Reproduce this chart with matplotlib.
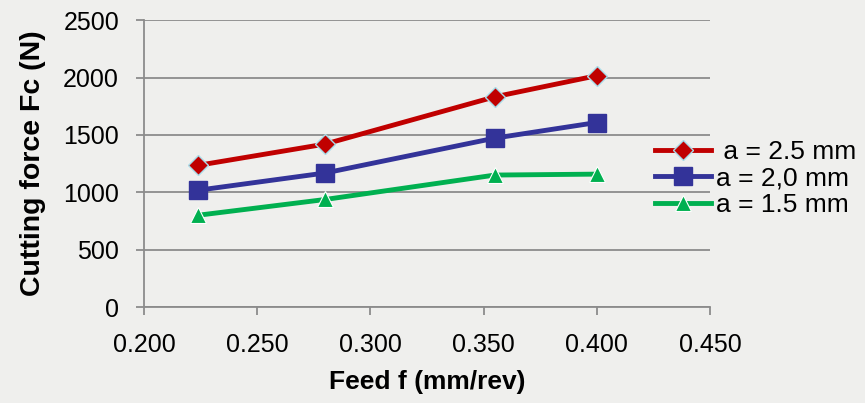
import matplotlib
matplotlib.use("Agg")
import matplotlib.pyplot as plt

plt.rcParams["font.family"] = ["Liberation Sans", "DejaVu Sans"]

feed = [0.224, 0.280, 0.355, 0.400]
fc_25 = [1235, 1420, 1832, 2016]
fc_20 = [1018, 1168, 1472, 1608]
fc_15 = [800, 937, 1150, 1158]
labels = [" a = 2.5 mm", "a = 2,0 mm", "a = 1.5 mm"]

fig = plt.figure(figsize=(8.65, 4.03), dpi=100, facecolor="#efefed")
ax = fig.add_axes([0.1665, 0.2382, 0.8208 - 0.1665, 0.950 - 0.2382])
ax.set_facecolor("none")

ax.plot(feed, fc_25, color="#c00000", linewidth=3.5, marker="D", markersize=10,
        markerfacecolor="#c00000", markeredgecolor="#a8dbe8", markeredgewidth=1,
        label=labels[0], zorder=3)
ax.plot(feed, fc_20, color="#333399", linewidth=3.5, marker="s", markersize=13,
        markerfacecolor="#333399", markeredgecolor="#333399",
        label=labels[1], zorder=3)
ax.plot(feed, fc_15, color="#00b050", linewidth=3.5, marker="^", markersize=11,
        markerfacecolor="#00b050", markeredgecolor="white", markeredgewidth=0.8,
        label=labels[2], zorder=3)

ax.set_xlim(0.2, 0.45)
ax.set_ylim(0, 2500)
ax.set_xticks([0.2, 0.25, 0.3, 0.35, 0.4, 0.45])
ax.set_xticklabels([f"{v:.3f}" for v in [0.2, 0.25, 0.3, 0.35, 0.4, 0.45]])
ax.set_yticks(range(0, 2501, 500))

ax.grid(True, axis="y", color="#8c8c8c", linewidth=1.3)
ax.set_axisbelow(True)
for s in ["top", "right"]:
    ax.spines[s].set_visible(False)
for s in ["left", "bottom"]:
    ax.spines[s].set_color("#8c8c8c")
    ax.spines[s].set_linewidth(1.3)

ax.tick_params(axis="both", labelsize=18, colors="#8c8c8c", labelcolor="black",
               length=6, width=1.3, direction="out")
ax.tick_params(axis="y", pad=12)
ax.tick_params(axis="x", pad=13)

ax.set_xlabel("Feed f (mm/rev)", fontsize=19, fontweight="bold", labelpad=9)
ax.set_ylabel("Cutting force Fc (N)", fontsize=20.5, fontweight="bold", labelpad=12)

ax.legend(loc="center left", bbox_to_anchor=(0.903, 0.448), frameon=False,
          fontsize=19, handlelength=2.1, handletextpad=0.2, labelspacing=0.1,
          borderaxespad=0, borderpad=0)

fig.savefig("out.png", dpi=100, facecolor=fig.get_facecolor())
